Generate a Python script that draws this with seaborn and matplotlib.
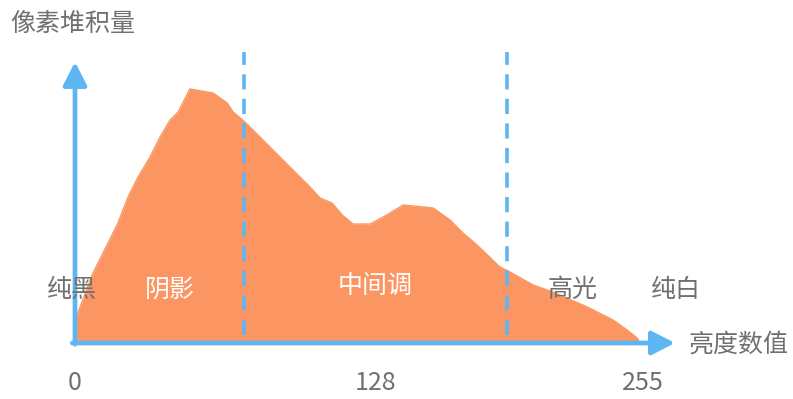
import matplotlib
matplotlib.use("Agg")
import matplotlib.pyplot as plt
import seaborn as sns
import pandas as pd

# Histogram outline (brightness 0-255, pixel count in arbitrary units)
brightness = [0, 0.9, 1.3, 8.1, 12.6, 19.3, 23.8, 28.3, 33.7, 38.2, 42.7, 46.3, 51.6,
              62, 68.3, 71, 76.3, 83, 96.5, 105.5, 110, 115.4, 120, 124.8, 132.5,
              140, 147.3, 156.3, 160.8, 168.4, 174.2, 180.5, 190.8, 195.3, 205.7,
              214.6, 230, 241.6, 247.9, 252.4, 253.7]
counts = [0, 13, 30, 70, 90, 120, 146, 166, 186, 206, 223, 231, 254,
          250, 240, 231, 221, 206, 176, 156, 145, 140, 128, 119, 119,
          128, 138, 136, 135, 123, 110, 98, 76, 71, 58,
          51, 36, 23, 13, 5, 0]

zone_bounds = [76, 194]
zone_labels = ["纯黑", "阴影", "中间调", "高光", "纯白"]
zone_label_x = [-1.3, 42.7, 134.7, 223.5, 269.8]
zone_label_y = [53, 53, 56, 53, 53]
zone_label_colors = ["#707070", "white", "white", "#707070", "#707070"]

tick_labels = ["0", "128", "255"]
tick_pos = [0, 135, 255]

y_title = "像素堆积量"
x_title = "亮度数值"

FILL = "#FB9663"
BLUE = "#5DB6F2"
GRAY = "#707070"

sns.set_theme(style="white")
plt.rcParams['font.family'] = ['Noto Sans CJK SC', 'DejaVu Sans']

fig = plt.figure(figsize=(7.93, 3.99), dpi=100)
ax = fig.add_axes([0, 0, 1, 1])
ax.set_xlim(-33.68, 322.4)
ax.set_ylim(-56, 343)
ax.axis("off")

df = pd.DataFrame({"brightness": brightness, "count": counts})
ax.fill_between(df["brightness"], df["count"], 0, color=FILL, lw=0, zorder=2)
sns.lineplot(data=df, x="brightness", y="count", color=FILL, lw=1, ax=ax, zorder=2,
             sort=False, legend=False)

# dashed zone boundaries
for b in zone_bounds:
    ax.plot([b, b], [8, 291], color=BLUE, lw=2.6, dashes=(4.2, 2.6), zorder=3,
            solid_capstyle="butt", dash_capstyle="butt")

# axes with arrows
arrow_kw = dict(arrowstyle="-|>,head_length=0.7,head_width=0.36", lw=3.4,
                color=BLUE, shrinkA=0, shrinkB=0, mutation_scale=20)
ax.annotate("", xy=(269.4, 0), xytext=(-1.2, 0), arrowprops=arrow_kw, zorder=4)
ax.annotate("", xy=(0, 281), xytext=(0, -1.2), arrowprops=arrow_kw, zorder=4)

for lab, x, y, c in zip(zone_labels, zone_label_x, zone_label_y, zone_label_colors):
    ax.text(x, y, lab, color=c, fontsize=18, ha="center", va="center", zorder=5)

for lab, x in zip(tick_labels, tick_pos):
    ax.text(x, -40, lab, color=GRAY, fontsize=18, ha="center", va="center")

ax.text(-29.2, 319, y_title, color=GRAY, fontsize=18, ha="left", va="center")
ax.text(275.3, -2, x_title, color=GRAY, fontsize=18, ha="left", va="center")

fig.savefig("out.png", dpi=100)
